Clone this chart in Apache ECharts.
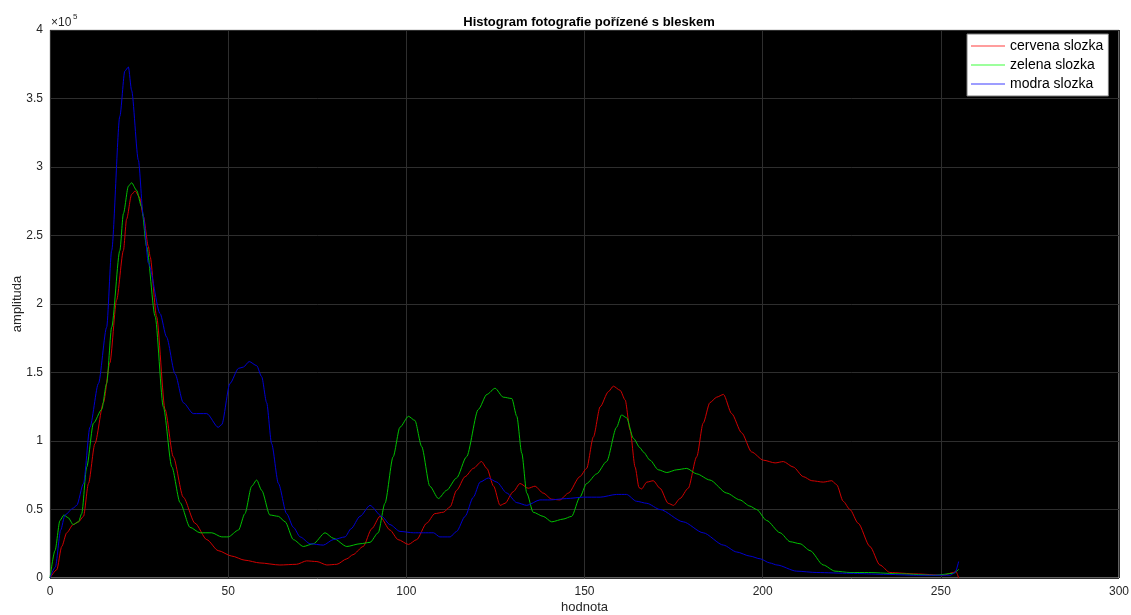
<!DOCTYPE html>
<html>
<head>
<meta charset="utf-8">
<title>Histogram fotografie</title>
<script src="https://cdn.jsdelivr.net/npm/echarts@6/dist/echarts.min.js"></script>
<style>
    html, body { margin: 0; padding: 0; background: #fff; }
    #hist_echart { width: 1131px; height: 615px; }
</style>
</head>
<body>
<div id="hist_echart"></div>
<script>
// odectene hodnoty z obrazku, amplituda v kusech (1e5 = 100000)
var redX = [0, 1.9, 3.3, 4.7, 6.5, 8, 9.4, 10.8, 12.6, 15, 16.8, 18.7, 20.6, 21.5, 22.9, 23.9, 25.1, 26.2, 27.6, 28.1,
    29.9, 32.3, 34.6, 37.4, 40.7, 44, 47.2, 51, 54.7, 58.9, 64.5, 69.2, 72, 74.9, 77.7, 80.5, 83.3, 85, 87.9, 90.3,
    92.6, 95.4, 97.7, 100.6, 102.9, 105.7, 108, 110.4, 112.3, 114.1, 116.5, 118.8, 121.1, 122.6, 124.5, 126.3, 127.7,
    130, 131.9, 134.2, 136.1, 138.4, 140.8, 143.1, 145.5, 148.7, 150.6, 152.5, 154.4, 156.7, 158.1, 160, 161.4, 162.8,
    164.2, 165.3, 166, 167.5, 169.3, 171.2, 173.5, 175, 176.8, 179.1, 181.5, 183.3, 185.2, 187.1, 189, 191.3, 194.1,
    196.9, 200.2, 203.5, 205.8, 208.6, 211.4, 213.8, 217, 219.4, 220.8, 222.6, 224.5, 226.8, 230.1, 232.9, 235.7,
    243, 250.7, 253.5, 254.2, 255];
var redY = [0, 6000, 23000, 33000, 39000, 41000, 45000, 69000, 98000, 128000, 157000, 203000, 239000, 262000, 280000,
    282500, 278000, 264000, 242000, 234500, 191000, 123000, 88500, 59000, 40000, 28000, 20000, 16000, 13000, 11000,
    9500, 10000, 12500, 12000, 9500, 10000, 14000, 17000, 23000, 36000, 45000, 35000, 28000, 24500, 28000, 40000,
    47000, 48000, 52000, 64000, 74000, 80000, 85000, 80000, 67000, 53000, 54500, 63000, 69000, 65500, 67000, 62000,
    57500, 57000, 62000, 74000, 80000, 103000, 125000, 136000, 140000, 137000, 130000, 108000, 81000, 66000, 65000,
    70000, 71000, 65500, 54500, 53000, 58000, 65500, 88500, 113000, 128000, 132000, 134000, 120000, 106000, 92000,
    86000, 84000, 85000, 81000, 74000, 71000, 70000, 71000, 68000, 56000, 50000, 40000, 23000, 9500, 4000, 3000,
    2000, 4000, 5000, 0];

var greenX = [0, 1.4, 2.8, 3.9, 5.1, 6.5, 8, 8.9, 10.3, 12.2, 14.5, 15.9, 17.3, 19.6, 20.6, 22, 22.9, 24.3, 25.7, 27.1,
    29.5, 31.8, 34.2, 36.5, 39.3, 42.1, 45.4, 48.2, 50, 52.9, 54.7, 56.6, 58, 59.4, 61.7, 64.1, 66, 68.3, 71.1, 73.9,
    77.2, 79.5, 83.3, 87, 89.8, 92.1, 94, 96.3, 98.2, 100.6, 102.4, 104.3, 106.6, 109, 111.3, 114.1, 116.9, 120.2,
    122.6, 124.9, 127.2, 129.6, 131, 132.4, 133.8, 135.6, 138.4, 140.8, 144, 146.4, 148.7, 150.6, 153.4, 156.2, 159,
    160.4, 161.8, 163.7, 165.6, 166.5, 168.4, 170.7, 173.1, 175.9, 178.7, 181.5, 185.2, 189.9, 193.6, 196.4, 198.3,
    201.1, 204.9, 207.7, 210.5, 213.3, 217, 220.3, 224.5, 229.7, 239, 248.4, 253.5, 255];
var greenY = [0, 20000, 42000, 46000, 44000, 39000, 41000, 47000, 81000, 113000, 123000, 142000, 183000, 239000, 266000,
    286000, 288500, 283000, 271000, 242000, 191000, 125000, 81000, 55000, 37000, 33000, 33000, 30000, 30000, 35000,
    47000, 67000, 71500, 64000, 46000, 45000, 41000, 28000, 23000, 25000, 33000, 29000, 23000, 25000, 26000, 33000,
    54500, 88500, 110000, 118000, 115000, 96000, 67000, 58000, 64000, 73000, 88500, 123000, 134000, 138500, 132000,
    131000, 118000, 91000, 62000, 48000, 45000, 41000, 43000, 45000, 59000, 69000, 76000, 85000, 110000, 119000,
    117000, 102000, 95000, 92000, 86000, 79000, 77000, 79000, 80000, 76000, 71500, 62000, 57000, 52500, 50000, 42000,
    33000, 26500, 25000, 20000, 9500, 5000, 4000, 4000, 3000, 2000, 3400, 6300];

var blueX = [0, 1.5, 3, 4.2, 6.5, 7.5, 9.4, 11.2, 13.6, 15.9, 17.3, 19.6, 21, 22, 22.9, 24.8, 26.2, 27.6, 30.9, 32.7,
    35.1, 37.4, 40.2, 44, 47.2, 48.2, 50.5, 52.9, 54.3, 55.9, 58, 59.4, 60.8, 62.2, 64.1, 66.4, 68.3, 70.2, 73, 76.7,
    79.5, 82.8, 84.5, 87, 89.8, 93.1, 95.4, 98.2, 102, 104.8, 107.6, 109.4, 112.3, 114.1, 116.5, 118.8, 120.7, 123,
    125.4, 128.2, 131, 133.8, 137.5, 140.3, 145, 149.7, 154.4, 159, 161.8, 164.6, 167.5, 171.2, 177.7, 183.3, 189,
    192.7, 196.4, 199.3, 202, 204, 209.5, 215.2, 224.5, 233.9, 243.2, 252.6, 254, 255];
var blueY = [0, 8000, 35000, 46000, 51000, 53000, 69000, 110000, 142000, 183000, 239000, 337000, 370000, 373000, 356000,
    305000, 264000, 230000, 193000, 176000, 149000, 128000, 120000, 120000, 110000, 112000, 142000, 153000, 154000,
    158000, 155000, 147000, 128000, 98000, 69000, 47000, 37000, 30000, 25000, 24000, 28000, 30000, 36000, 45000,
    53000, 45000, 39000, 34000, 33000, 33000, 33000, 30000, 30000, 34000, 45000, 59000, 70000, 73000, 70000, 62000,
    55000, 53000, 57000, 57000, 58000, 59000, 59000, 61000, 61000, 56000, 54500, 50000, 41000, 33000, 24000, 19000,
    16000, 14000, 11000, 9500, 5000, 4000, 3400, 2700, 2000, 2000, 4000, 12000];

var seriesNames = ['cervena slozka', 'zelena slozka', 'modra slozka'];
var seriesColors = ['#d00000', '#00c000', '#0000d0'];
var legendColors = ['#ff3c3c', '#3cff3c', '#3c3cff'];
var yTicks = [0, 50000, 100000, 150000, 200000, 250000, 300000, 350000, 400000];

function toPairs(xs, ys) {
    var out = [];
    for (var i = 0; i < xs.length; i++) {
        out.push([xs[i], ys[i]]);
    }
    return out;
}

function DrawHistogram() {
    var myChart = echarts.init(document.getElementById('hist_echart'));
    var allX = [redX, greenX, blueX];
    var allY = [redY, greenY, blueY];
    var series = [];
    var legendData = [];
    for (var i = 0; i < 3; i++) {
        series.push({
            name: seriesNames[i],
            type: 'line',
            data: toPairs(allX[i], allY[i]),
            showSymbol: false,
            symbol: 'none',
            smooth: 0.25,
            smoothMonotone: 'x',
            lineStyle: { color: seriesColors[i], width: 1 },
            itemStyle: { color: seriesColors[i] },
            animation: false
        });
        legendData.push({ name: seriesNames[i], itemStyle: { color: legendColors[i] } });
    }

    var Option = {
        backgroundColor: '#fff',
        title: {
            text: 'Histogram fotografie pořízené s bleskem',
            left: 584,
            top: 11,
            textAlign: 'center',
            textStyle: { fontFamily: 'Liberation Sans', fontSize: 13, fontWeight: 'bold', color: '#000' }
        },
        legend: {
            orient: 'vertical',
            left: 967,
            top: 34,
            backgroundColor: '#fff',
            borderColor: '#7a7a7a',
            borderWidth: 1,
            borderRadius: 0,
            padding: [5, 5, 5, 4],
            icon: 'rect',
            itemWidth: 34,
            itemHeight: 1,
            itemGap: 5,
            itemTextGap: 4,
            textStyle: { fontFamily: 'Liberation Sans', fontSize: 14, lineHeight: 14, color: '#000' },
            data: legendData
        },
        grid: {
            left: 50,
            right: 12,
            top: 30,
            bottom: 37,
            outerBoundsMode: 'none',
            containLabel: false,
            show: true,
            backgroundColor: '#000',
            borderColor: '#c4c4c4',
            borderWidth: 1
        },
        xAxis: {
            type: 'value',
            min: 0,
            max: 300,
            interval: 50,
            name: 'hodnota',
            nameLocation: 'middle',
            nameGap: 23,
            nameMoveOverlap: false,
            nameTextStyle: { fontFamily: 'Liberation Sans', fontSize: 13, color: '#262626' },
            axisLine: { show: false },
            axisTick: { show: false },
            axisLabel: { fontFamily: 'Liberation Sans', fontSize: 12, color: '#262626', margin: 8 },
            splitLine: { show: true, lineStyle: { color: '#2e2e2e', width: 1 } }
        },
        yAxis: {
            type: 'value',
            min: 0,
            max: yTicks[yTicks.length - 1],
            interval: yTicks[1] - yTicks[0],
            name: 'amplituda',
            nameLocation: 'middle',
            nameGap: 26,
            nameMoveOverlap: false,
            nameTextStyle: { fontFamily: 'Liberation Sans', fontSize: 13, color: '#262626' },
            axisLine: { show: false },
            axisTick: { show: false },
            axisLabel: {
                fontFamily: 'Liberation Sans', fontSize: 12, color: '#262626', margin: 7,
                formatter: function (v) { return String(v / 100000); }
            },
            splitLine: { show: true, lineStyle: { color: '#2e2e2e', width: 1 } }
        },
        // "x10^5" nad osou y
        graphic: [
            { type: 'text', left: 51, top: 17, style: { text: '×10', fontFamily: 'Liberation Sans', fontSize: 12, fill: '#262626' } },
            { type: 'text', left: 73, top: 13, style: { text: '5', fontFamily: 'Liberation Sans', fontSize: 8, fill: '#262626' } }
        ],
        series: series
    };
    myChart.setOption(Option);
}

DrawHistogram();
</script>
</body>
</html>
